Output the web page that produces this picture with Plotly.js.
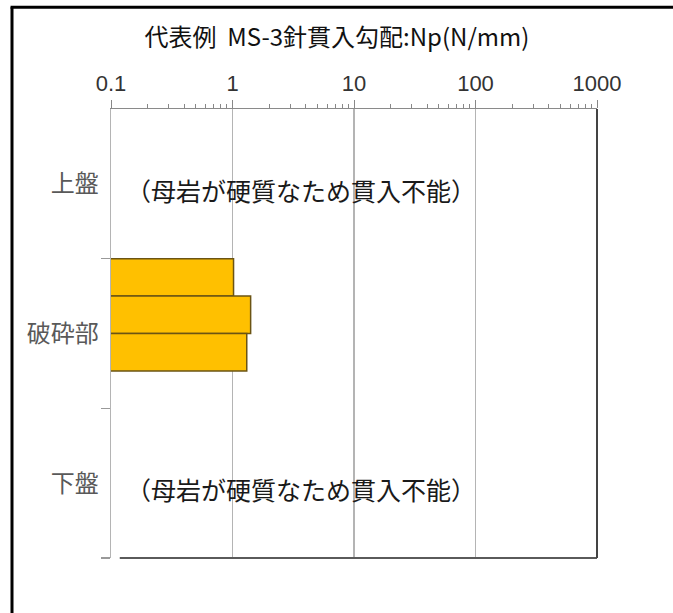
<!DOCTYPE html>
<html>
<head>
<meta charset="utf-8">
<script src="https://cdn.plot.ly/plotly-3.0.1.min.js"></script>
<style>html,body{margin:0;padding:0;background:#fff;}#chart{width:673px;height:613px;}</style>
</head>
<body>
<div id="chart"></div>
<script>
// ---- data ----
const zoneLabels = ["上盤", "破砕部", "下盤"];
const zoneCenters = [2, 6, 10];
const zoneBounds = [4, 8, 12];
const barPositions = [4.5, 5.5, 6.5];          // three measurements inside 破砕部
const npValues = [1.02, 1.41, 1.31];            // Np (N/mm)
const noteText = "（母岩が硬質なため貫入不能）";
const noteZones = [2, 10];                       // 上盤, 下盤
const xTickVals = [0.1, 1, 10, 100, 1000];
const xTickText = ["0.1", "1", "10", "100", "1000"];
const minorSteps = [2, 3, 4, 5, 6, 7, 8, 9];
const titleText = "代表例  MS-3針貫入勾配:Np(N/mm)";

// minor tick positions: 2..9 within each decade
const minorTicks = [];
xTickVals.slice(0, -1).forEach(d => minorSteps.forEach(s => minorTicks.push(d * s)));

const cjk = '"Noto Sans CJK JP", "Noto Sans", sans-serif';

const trace = {
  type: 'bar',
  orientation: 'h',
  x: npValues,
  y: barPositions,
  width: 1,
  marker: {color: '#FFC000', line: {color: '#6b5414', width: 1.5}},
  hoverinfo: 'x'
};

const annotations = noteZones.map(z => ({
  xref: 'paper', yref: 'y', x: 0.026, y: z, yshift: -6,
  xanchor: 'left', yanchor: 'middle', showarrow: false,
  text: noteText, font: {family: cjk, size: 25, color: '#1a1a1a'}
}));

const layout = {
  width: 673, height: 613,
  margin: {l: 111, r: 76, t: 109, b: 55},
  paper_bgcolor: '#fff', plot_bgcolor: '#fff',
  showlegend: false,
  bargap: 0,
  title: {
    text: titleText, xref: 'container', yref: 'container',
    x: 337/673, y: 1 - 38/613, xanchor: 'center', yanchor: 'middle',
    font: {family: cjk, size: 24, color: '#111'}
  },
  xaxis: {
    type: 'log', side: 'top', range: [-1, 3],
    tickmode: 'array', tickvals: xTickVals, ticktext: xTickText,
    ticks: 'outside', ticklen: 8, tickcolor: '#888', tickwidth: 1,
    tickfont: {family: 'Liberation Sans, Arial, sans-serif', size: 22, color: '#333'},
    showline: true, linecolor: '#8a8a8a', linewidth: 1.5,
    showgrid: true, gridcolor: '#b4b4b4', gridwidth: 1.5,
    zeroline: false,
    minor: {tickmode: 'array', tickvals: minorTicks, ticks: 'outside', ticklen: 4, tickcolor: '#888', tickwidth: 1, showgrid: false},
    fixedrange: true
  },
  yaxis: {
    range: [12, 0],
    tickmode: 'array', tickvals: zoneCenters, ticktext: zoneLabels,
    ticks: '', ticklabelstandoff: 6,
    tickfont: {family: cjk, size: 24, color: '#595959'},
    showline: true, linecolor: '#b4b4b4', linewidth: 1.5,
    showgrid: false, zeroline: false,
    minor: {tickmode: 'array', tickvals: zoneBounds, ticks: 'outside', ticklen: 9, tickcolor: '#999', tickwidth: 1.5, showgrid: false},
    fixedrange: true
  },
  annotations: annotations,
  shapes: [
    {type: 'line', xref: 'paper', yref: 'paper', x0: 0.018, x1: 1, y0: 0, y1: 0, line: {color: '#5a5a5a', width: 2}},
    {type: 'line', xref: 'paper', yref: 'paper', x0: 1, x1: 1, y0: 0, y1: 1, line: {color: '#444', width: 2}},
    {type: 'line', xref: 'paper', yref: 'paper', x0: -0.2037, x1: -0.2037, y0: -0.2, y1: 1.2265, line: {color: '#000', width: 3}},
    {type: 'line', xref: 'paper', yref: 'paper', x0: -0.2067, x1: 1.3, y0: 1.2265, y1: 1.2265, line: {color: '#000', width: 3}}
  ]
};

Plotly.newPlot('chart', [trace], layout, {displayModeBar: false, staticPlot: true});
</script>
</body>
</html>
